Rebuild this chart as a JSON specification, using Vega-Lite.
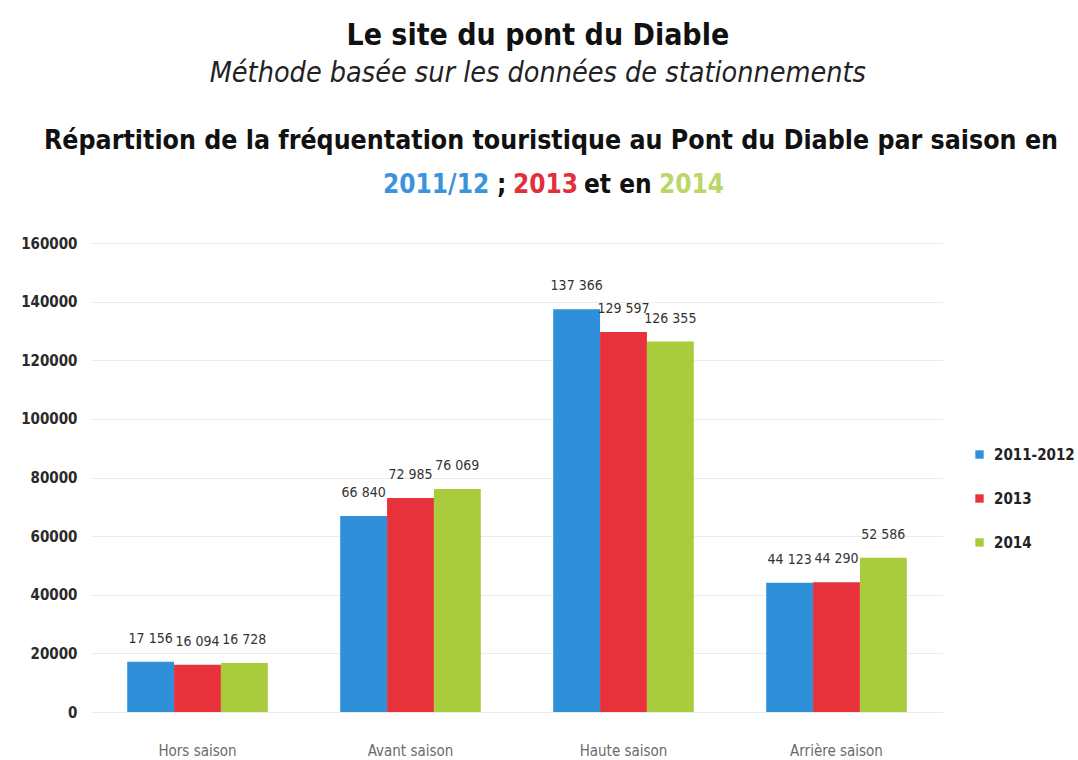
{
  "$schema": "https://vega.github.io/schema/vega-lite/v6.json",
  "background": "white",
  "padding": {"left": 20, "top": 21, "right": 0, "bottom": 0},
  "config": {
    "locale": {"number": {"decimal": ",", "thousands": " ", "grouping": [3], "currency": ["", " €"]}},
    "view": {"stroke": null},
    "font": "DejaVu Sans Condensed, Liberation Sans, sans-serif"
  },
  "title": {
    "text": "Le site du pont du Diable",
    "subtitle": "Méthode basée sur les données de stationnements",
    "anchor": "middle",
    "dx": -10,
    "font": "DejaVu Sans Condensed, Liberation Sans, sans-serif",
    "fontSize": 30,
    "fontWeight": "bold",
    "color": "#111111",
    "subtitleFont": "DejaVu Sans Condensed, Liberation Sans, sans-serif",
    "subtitleFontSize": 28.5,
    "subtitleFontStyle": "italic",
    "subtitleColor": "#222222",
    "subtitlePadding": 8,
    "offset": 40
  },
  "center": true,
  "bounds": "flush",
  "spacing": 45,
  "vconcat": [
    {
      "title": {
        "text": "Répartition de la fréquentation touristique au Pont du Diable par saison en",
        "anchor": "middle",
        "font": "DejaVu Sans Condensed, Liberation Sans, sans-serif",
        "fontSize": 26.5,
        "fontWeight": "bold",
        "color": "#111111",
        "offset": 18,
        "dx": -69
      },
      "spacing": 8,
      "bounds": "flush",
      "hconcat": [
        {"width": 106, "height": 1, "data": {"values": []}, "mark": "point", "title": {"text": "2011/12", "color": "#3b93dc", "fontSize": 26, "fontWeight": "bold", "anchor": "start", "offset": 0, "dx": -134}},
        {"width": 8, "height": 1, "data": {"values": []}, "mark": "point", "title": {"text": ";", "color": "#111111", "fontSize": 26, "fontWeight": "bold", "anchor": "start", "offset": 0, "dx": -134}},
        {"width": 63, "height": 1, "data": {"values": []}, "mark": "point", "title": {"text": "2013", "color": "#e2303a", "fontSize": 26, "fontWeight": "bold", "anchor": "start", "offset": 0, "dx": -134}},
        {"width": 67, "height": 1, "data": {"values": []}, "mark": "point", "title": {"text": "et en", "color": "#111111", "fontSize": 26, "fontWeight": "bold", "anchor": "start", "offset": 0, "dx": -134}},
        {"width": 64, "height": 1, "data": {"values": []}, "mark": "point", "title": {"text": "2014", "color": "#bcd66a", "fontSize": 26, "fontWeight": "bold", "anchor": "start", "offset": 0, "dx": -134}}
      ]
    },
    {
      "width": 852,
      "height": 469,
      "data": {
        "values": [
          {"saison": "Hors saison", "periode": "2011-2012", "visiteurs": 17156},
          {"saison": "Hors saison", "periode": "2013", "visiteurs": 16094},
          {"saison": "Hors saison", "periode": "2014", "visiteurs": 16728},
          {"saison": "Avant saison", "periode": "2011-2012", "visiteurs": 66840},
          {"saison": "Avant saison", "periode": "2013", "visiteurs": 72985},
          {"saison": "Avant saison", "periode": "2014", "visiteurs": 76069},
          {"saison": "Haute saison", "periode": "2011-2012", "visiteurs": 137366},
          {"saison": "Haute saison", "periode": "2013", "visiteurs": 129597},
          {"saison": "Haute saison", "periode": "2014", "visiteurs": 126355},
          {"saison": "Arrière saison", "periode": "2011-2012", "visiteurs": 44123},
          {"saison": "Arrière saison", "periode": "2013", "visiteurs": 44290},
          {"saison": "Arrière saison", "periode": "2014", "visiteurs": 52586}
        ]
      },
      "encoding": {
        "x": {
          "field": "saison",
          "type": "nominal",
          "sort": null,
          "scale": {"paddingInner": 0.34, "paddingOuter": 0.17},
          "axis": {
            "title": null,
            "labelAngle": 0,
            "labelFontSize": 15,
            "labelColor": "#6b6b6b",
            "labelPadding": 31,
            "ticks": false,
            "domain": false
          }
        },
        "xOffset": {"field": "periode", "type": "nominal", "sort": null, "scale": {"paddingInner": 0, "paddingOuter": 0}},
        "y": {
          "field": "visiteurs",
          "type": "quantitative",
          "scale": {"domain": [0, 160000]},
          "axis": {
            "title": null,
            "values": [0, 20000, 40000, 60000, 80000, 100000, 120000, 140000, 160000],
            "format": "d",
            "labelFontSize": 15,
            "labelFontWeight": "bold",
            "labelColor": "#2a2a2a",
            "labelPadding": 14,
            "ticks": false,
            "domain": false,
            "gridColor": "#ececec",
            "gridWidth": 1
          }
        }
      },
      "layer": [
        {
          "mark": {"type": "bar"},
          "encoding": {
            "color": {
              "field": "periode",
              "type": "nominal",
              "sort": null,
              "scale": {"domain": ["2011-2012", "2013", "2014"], "range": ["#2f8fd8", "#e8323b", "#a9cc3c"]},
              "legend": {
                "title": null,
                "orient": "none",
                "legendX": 881,
                "legendY": 249,
                "symbolType": "square",
                "symbolSize": 70,
                "symbolStrokeWidth": 0,
                "labelFontSize": 15,
                "labelFontWeight": "bold",
                "labelColor": "#222222",
                "rowPadding": 28,
                "labelOffset": 7
              }
            }
          }
        },
        {
          "mark": {"type": "text", "baseline": "bottom", "dy": -16, "fontSize": 14, "color": "#333333"},
          "encoding": {
            "text": {"field": "visiteurs", "type": "quantitative", "format": ","}
          }
        }
      ]
    }
  ]
}
